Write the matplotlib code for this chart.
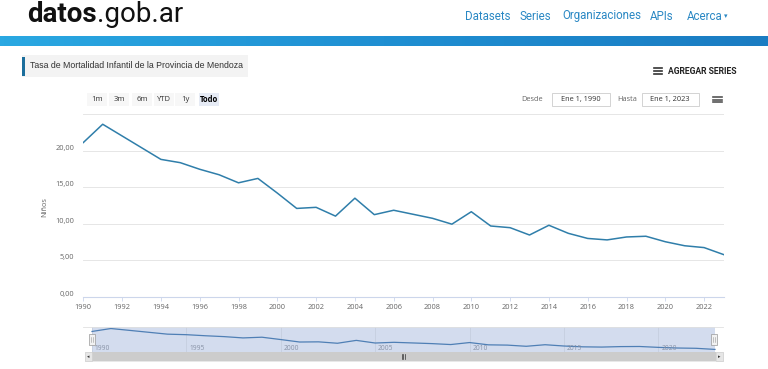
import numpy as np
import matplotlib.pyplot as plt
from matplotlib.patches import Rectangle
from matplotlib.transforms import ScaledTranslation
from matplotlib.colors import LinearSegmentedColormap

# serie: tasa de mortalidad infantil, Mendoza
years = list(range(1990, 2024))
tasa = [21.1, 23.6, 22.0, 20.4, 18.8, 18.35, 17.45, 16.7, 15.6, 16.2,
        14.2, 12.1, 12.25, 11.05, 13.5, 11.25, 11.85, 11.3, 10.75, 9.95,
        11.65, 9.7, 9.47, 8.47, 9.8, 8.7, 8.0, 7.8, 8.2, 8.3,
        7.55, 7.0, 6.75, 5.8]

x_ticks = list(range(1990, 2023, 2))
y_ticks = [0, 5, 10, 15, 20]
nav_ticks = [1990, 1995, 2000, 2005, 2010, 2015, 2020]
nav_links = ['Datasets', 'Series', 'Organizaciones', 'APIs', 'Acerca']
nav_x = [465, 520, 562, 650, 687]
ranges = ['1m', '3m', '6m', 'YTD', '1y', 'Todo']
range_x = [97, 119, 142, 164, 185, 209]

W, H = 768, 369
fig = plt.figure(figsize=(W / 100, H / 100), dpi=100)
fig.patch.set_facecolor('white')


def fx(x):
    return x / W


def fy(y):
    return 1 - y / H


def rect(x0, y0, x1, y1, **kw):
    fig.patches.append(Rectangle((fx(x0), fy(y1)), (x1 - x0) / W, (y1 - y0) / H,
                                 transform=fig.transFigure, **kw))


def hamburger(xc, yc, w, gap, lw=1.3, color='#333333'):
    for k in (-1, 0, 1):
        fig.add_artist(plt.Line2D([fx(xc - w / 2), fx(xc + w / 2)],
                                  [fy(yc + k * gap)] * 2, lw=lw, color=color,
                                  transform=fig.transFigure))


# header
t1 = fig.text(fx(27), fy(22), 'datos', fontsize=20, fontweight='bold', family='Roboto',
              va='baseline', ha='left', color='#111111')
r = fig.canvas.get_renderer()
x_end = t1.get_window_extent(r).x1
fig.text(x_end / W + 0.5 / W, fy(22), '.gob.ar', fontsize=20, family='Roboto',
         va='baseline', ha='left', color='#111111')
for lab, xx in zip(nav_links, nav_x):
    fig.text(fx(xx), fy(16), lab, fontsize=8.3, family='Roboto',
             color='#2a88c4', va='center', ha='left')
fig.text(fx(724), fy(16.5), '\u25be', fontsize=5, family=['DejaVu Sans'],
         color='#2a88c4', va='center', ha='left')

# gradient bar
bar_ax = fig.add_axes([0, fy(46), 1, 10 / H])
grad = np.linspace(0, 1, 256).reshape(1, -1)
cm = LinearSegmentedColormap.from_list('b', ['#2aa8e2', '#1f8fd2', '#1a7cc2'])
bar_ax.imshow(grad, aspect='auto', cmap=cm, extent=[0, 1, 0, 1])
bar_ax.axis('off')

# title box
rect(22, 55, 248, 77, facecolor='#f3f3f3', edgecolor='none')
rect(22, 57, 25, 76, facecolor='#1b6e9c', edgecolor='none')
fig.text(fx(30), fy(66), 'Tasa de Mortalidad Infantil de la Provincia de Mendoza',
         fontsize=6.3, family='Liberation Sans', color='#333333', va='center', ha='left')

# agregar series
hamburger(658, 71, 8, 2.6, lw=1.2)
fig.text(fx(668), fy(71), 'AGREGAR SERIES', fontsize=6.2, fontweight='bold',
         family='Roboto', color='#222222', va='center', ha='left')

# range selector
for lab, xx in zip(ranges, range_x):
    sel = lab == 'Todo'
    rect(xx - 10, 93, xx + 10, 106, facecolor='#e6ebf5' if sel else '#f7f7f7',
         edgecolor='none')
    fig.text(fx(xx), fy(99.5), lab, fontsize=5.5, family='Open Sans',
             fontweight='bold' if sel else 'normal',
             color='#000000' if sel else '#333333', va='center', ha='center')

fig.text(fx(532), fy(99.5), 'Desde', fontsize=5.3, family='Open Sans', color='#666666',
         va='center', ha='center')
rect(552, 93, 610, 106, facecolor='white', edgecolor='#cccccc', lw=0.6)
fig.text(fx(581), fy(99.5), 'Ene 1, 1990', fontsize=5.3, family='Open Sans',
         color='#333333', va='center', ha='center')
fig.text(fx(627), fy(99.5), 'Hasta', fontsize=5.3, family='Open Sans', color='#666666',
         va='center', ha='center')
rect(642, 93, 699, 106, facecolor='white', edgecolor='#cccccc', lw=0.6)
fig.text(fx(670), fy(99.5), 'Ene 1, 2023', fontsize=5.3, family='Open Sans',
         color='#333333', va='center', ha='center')
hamburger(717, 99.5, 9, 2.6, lw=1.2, color='#555555')

# main chart
ax = fig.add_axes([fx(83.3), fy(297), (723.5 - 83.3) / W, (297 - 114) / H])
ax.plot(years, tasa, color='#2f7eaa', lw=1.1, solid_joinstyle='round')
ax.set_xlim(1990, 2023)
ax.set_ylim(0, 25)
ax.set_yticks([0, 5, 10, 15, 20, 25])
ax.set_yticklabels([f'{v:.2f}'.replace('.', ',') for v in y_ticks] + [''])
ax.set_xticks(x_ticks)
ax.set_xticklabels([str(v) for v in x_ticks])
ax.grid(axis='y', color='#e6e6e6', lw=0.7)
ax.set_axisbelow(True)
for s in ['top', 'right', 'left']:
    ax.spines[s].set_visible(False)
ax.spines['bottom'].set_color('#ccd6eb')
ax.spines['bottom'].set_linewidth(0.8)
ax.tick_params(axis='y', length=0, pad=6.5, labelsize=5.3, labelcolor='#666666')
ax.tick_params(axis='x', length=3, width=0.6, color='#ccd6eb', pad=2,
               labelsize=5.3, labelcolor='#666666')
for lab in ax.get_yticklabels():
    lab.set_family('Open Sans')
    lab.set_transform(lab.get_transform() + ScaledTranslation(0, 3.5 / 100, fig.dpi_scale_trans))
for lab in ax.get_xticklabels():
    lab.set_family('Open Sans')
fig.text(fx(45), fy(207), 'Niños', fontsize=5.3, color='#666666', family='Open Sans',
         rotation=90, va='center', ha='center')

# navigator
nx0, nx1 = 1990 - 9 / 18.85, 2023 + 8 / 18.85
nav = fig.add_axes([fx(83), fy(352), (723 - 83) / W, 25 / H])
nav.set_xlim(nx0, nx1)
nav.set_ylim(3.6, 24.9)
nav.axvspan(1990, 2023, color='#d3dcee', lw=0)
for t in nav_ticks:
    nav.axvline(t, color='#c3cbdc', lw=0.5)
    nav.text(t + 0.15, 6.2, str(t), fontsize=4.8, color='#8892a6', family='Open Sans',
             va='center', ha='left')
nav.plot(years, tasa, color='#4f7fb5', lw=0.9)
nav.set_xticks([])
nav.set_yticks([])
for s in ['bottom', 'right', 'left']:
    nav.spines[s].set_visible(False)
nav.spines['top'].set_color('#e0e0e0')
nav.spines['top'].set_linewidth(0.6)

# handles
for t in (1990, 2023):
    xh = 92 + (t - 1990) * 18.85
    rect(xh - 3, 334, xh + 3, 345, facecolor='#f2f2f2', edgecolor='#999999', lw=0.5)
    for dx in (-0.8, 0.8):
        fig.add_artist(plt.Line2D([fx(xh + dx)] * 2, [fy(337), fy(342)], lw=0.4,
                                  color='#999999', transform=fig.transFigure))

# scrollbar
rect(85, 352, 723, 361, facecolor='#f2f2f2', edgecolor='#dddddd', lw=0.4)
rect(92, 352, 716, 361, facecolor='#cccccc', edgecolor='none')
rect(85, 352, 92, 361, facecolor='#e6e6e6', edgecolor='#cccccc', lw=0.4)
rect(716, 352, 723, 361, facecolor='#e6e6e6', edgecolor='#cccccc', lw=0.4)
fig.text(fx(88.5), fy(356.5), '\u25c2', fontsize=3.5, color='#333333', va='center', ha='center')
fig.text(fx(719.5), fy(356.5), '\u25b8', fontsize=3.5, color='#333333', va='center', ha='center')
for dx in (-1.5, 0, 1.5):
    fig.add_artist(plt.Line2D([fx(403 + dx)] * 2, [fy(354), fy(359)], lw=0.5,
                              color='#333333', transform=fig.transFigure))

fig.savefig('out.png', dpi=100)
